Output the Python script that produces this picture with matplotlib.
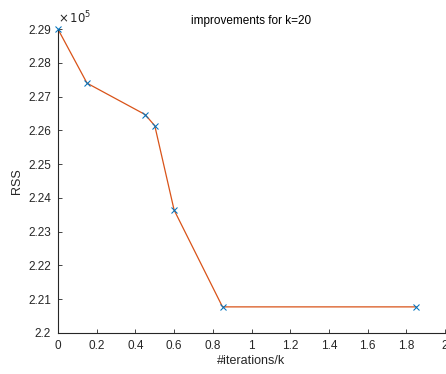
import numpy as np
import matplotlib.pyplot as plt
from matplotlib.ticker import FuncFormatter, MultipleLocator

plt.rcParams['font.family'] = ['Liberation Sans', 'DejaVu Sans']

# RSS after each improvement step, k=20
iters_per_k = [0, 0.15, 0.45, 0.5, 0.6, 0.85, 1.85]
rss = [229000, 227400, 226470, 226140, 223640, 220770, 220770]

scale = 1e5
dark = '#262626'

fig = plt.figure(figsize=(4.46, 3.74), dpi=100)
ax = fig.add_axes([0.130, 0.110, 0.868, 0.812])

y = np.array(rss) / scale
ax.plot(iters_per_k, y, '-', color='#D95319', lw=0.9, zorder=2)
ax.plot(iters_per_k, y, 'x', color='#0072BD', ms=4, mew=0.75, zorder=3, clip_on=False)

ax.set_xlim(0, 2)
ax.set_ylim(2.2, 2.29)
ax.xaxis.set_major_locator(MultipleLocator(0.2))
ax.yaxis.set_major_locator(MultipleLocator(0.01))
ax.xaxis.set_major_formatter(FuncFormatter(lambda v, p: '%g' % round(v, 2)))
ax.yaxis.set_major_formatter(FuncFormatter(lambda v, p: '%g' % round(v, 2)))

for s in ['top', 'right']:
    ax.spines[s].set_visible(False)
for s in ['left', 'bottom']:
    ax.spines[s].set_color(dark)
    ax.spines[s].set_linewidth(0.8)
ax.tick_params(direction='in', length=3, width=0.6, colors=dark, labelsize=8.5)
ax.tick_params(axis='y', pad=5)
ax.tick_params(axis='x', pad=5)

ax.text(0.0, 1.008, r'$\times\,10^{5}$', transform=ax.transAxes,
        fontsize=8.5, color=dark, ha='left', va='bottom')

ax.set_title('improvements for k=20', fontsize=8.5, color='black', pad=4)
ax.set_xlabel('#iterations/k', fontsize=9, color=dark, labelpad=2)
ax.set_ylabel('RSS', fontsize=9, color=dark, labelpad=4)

fig.savefig('out.png', dpi=100)
